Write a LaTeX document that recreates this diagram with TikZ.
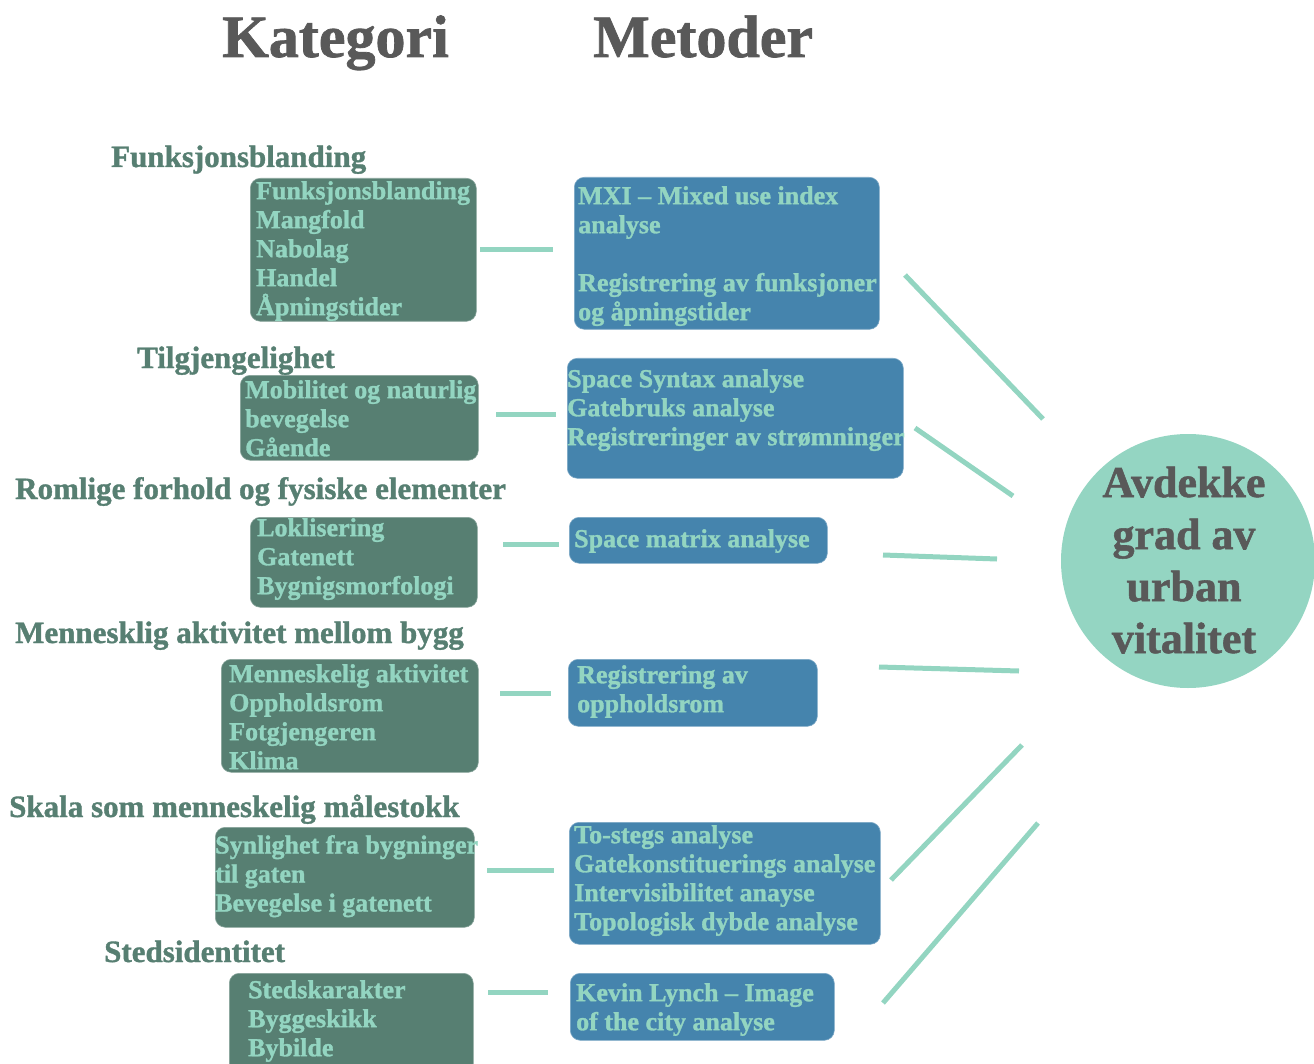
\documentclass[tikz,border=0pt]{standalone}
\usepackage{fontspec}
\setmainfont{Liberation Serif}[BoldFeatures={FakeBold=1.2}]
\definecolor{boxgreen}{HTML}{577F72}
\definecolor{boxblue}{HTML}{4584AD}
\definecolor{mint}{HTML}{93D5C1}
\definecolor{circ}{HTML}{94D5C2}
\definecolor{titlegray}{HTML}{595959}
\begin{document}
\begin{tikzpicture}[x=1pt,y=-1pt,
  gbox/.style={draw=boxgreen!70!white, line width=0.6pt, fill=boxgreen, rounded corners=10pt, anchor=north west, inner sep=0pt},
  bbox/.style={draw=boxblue!70!white, line width=0.6pt, fill=boxblue, rounded corners=10pt, anchor=north west, inner sep=0pt},
  boxtext/.style={anchor=north west, inner sep=0pt, align=left, text=mint, font=\fontsize{26}{29}\selectfont\bfseries},
  cat/.style={anchor=base west, inner sep=0pt, text=boxgreen, font=\fontsize{31}{36}\selectfont\bfseries},
  head/.style={anchor=base west, inner sep=0pt, text=titlegray, font=\fontsize{60}{70}\selectfont\bfseries},
  conn/.style={draw=mint, line width=5pt},
]
\useasboundingbox (0,0) rectangle (1314,1064);

% headings
\node[head] (hkat) at (222,57) {Kategori};
\node[head] (hmet) at (593,57) {Metoder};

% category labels
\node[cat] (c1) at (111,167) {Funksjonsblanding};
\node[cat] (c2) at (137,368) {Tilgjengelighet};
\node[cat] (c3) at (15,499) {Romlige forhold og fysiske elementer};
\node[cat] (c4) at (15,643) {Mennesklig aktivitet mellom bygg};
\node[cat] (c5) at (9,817) {Skala som menneskelig målestokk};
\node[cat] (c6) at (104,962) {Stedsidentitet};

% green boxes
\node[gbox, minimum width=226pt, minimum height=143pt] (g1) at (250,178) {};
\node[boxtext] (g1t) at (256,181) {Funksjonsblanding\\Mangfold\\Nabolag\\Handel\\Åpningstider};
\node[gbox, minimum width=238pt, minimum height=85pt] (g2) at (240,375) {};
\node[boxtext] (g2t) at (245,380) {Mobilitet og naturlig\\bevegelse\\Gående};
\node[gbox, minimum width=227pt, minimum height=90pt] (g3) at (250,517) {};
\node[boxtext] (g3t) at (257,518) {Loklisering\\Gatenett\\Bygnigsmorfologi};
\node[gbox, minimum width=257pt, minimum height=113pt] (g4) at (221,659) {};
\node[boxtext] (g4t) at (229,664) {Menneskelig aktivitet\\Oppholdsrom\\Fotgjengeren\\Klima};
\node[gbox, minimum width=259pt, minimum height=100pt] (g5) at (215,827) {};
\node[boxtext] (g5t) at (215,835) {Synlighet fra bygninger\\til gaten\\Bevegelse i gatenett};
\node[gbox, minimum width=244pt, minimum height=100pt] (g6) at (229,973) {};
\node[boxtext] (g6t) at (248,980) {Stedskarakter\\Byggeskikk\\Bybilde};

% blue boxes
\node[bbox, minimum width=305pt, minimum height=152pt] (b1) at (574,177) {};
\node[boxtext] (b1t) at (578,186) {MXI – Mixed use index\\analyse\\[29pt]Registrering av funksjoner\\og åpningstider};
\node[bbox, minimum width=336pt, minimum height=120pt] (b2) at (567,358) {};
\node[boxtext] (b2t) at (567,369) {Space Syntax analyse\\Gatebruks analyse\\Registreringer av strømninger};
\node[bbox, minimum width=258pt, minimum height=46pt] (b3) at (569,517) {};
\node[boxtext] (b3t) at (574,529) {Space matrix analyse};
\node[bbox, minimum width=249pt, minimum height=67pt] (b4) at (568,659) {};
\node[boxtext] (b4t) at (577,665) {Registrering av\\oppholdsrom};
\node[bbox, minimum width=311pt, minimum height=122pt] (b5) at (569,822) {};
\node[boxtext] (b5t) at (574,825) {To-stegs analyse\\Gatekonstituerings analyse\\Intervisibilitet anayse\\Topologisk dybde analyse};
\node[bbox, minimum width=264pt, minimum height=67pt] (b6) at (570,973) {};
\node[boxtext] (b6t) at (576,983) {Kevin Lynch – Image\\of the city analyse};

% goal circle
\node[circle, fill=circ, minimum size=254pt, inner sep=0pt] (goal) at (1188,561) {};
\node[align=center, inner sep=0pt, text=titlegray, font=\fontsize{44}{52}\selectfont\bfseries] (goalt) at (1184,560) {Avdekke\\grad av\\urban\\vitalitet};

% connector end points
\coordinate (g1e) at (480,250); \coordinate (b1w) at (553,250);
\coordinate (g2e) at (496,414); \coordinate (b2w) at (556,414);
\coordinate (g3e) at (503,544); \coordinate (b3w) at (559,544);
\coordinate (g4e) at (500,693); \coordinate (b4w) at (551,693);
\coordinate (g5e) at (487,870); \coordinate (b5w) at (554,870);
\coordinate (g6e) at (488,992); \coordinate (b6w) at (548,992);

\coordinate (b1e) at (905,275); \coordinate (o1) at (1043,419);
\coordinate (b2e) at (915,428); \coordinate (o2) at (1013,496);
\coordinate (b3e) at (883,555); \coordinate (o3) at (997,559);
\coordinate (b4e) at (879,667); \coordinate (o4) at (1019,671);
\coordinate (b5e) at (891,880); \coordinate (o5) at (1022,745);
\coordinate (b6e) at (883,1003); \coordinate (o6) at (1038,823);

\draw[conn] (g1e) -- (b1w);
\draw[conn] (g2e) -- (b2w);
\draw[conn] (g3e) -- (b3w);
\draw[conn] (g4e) -- (b4w);
\draw[conn] (g5e) -- (b5w);
\draw[conn] (g6e) -- (b6w);
\draw[conn] (b1e) -- (o1);
\draw[conn] (b2e) -- (o2);
\draw[conn] (b3e) -- (o3);
\draw[conn] (b4e) -- (o4);
\draw[conn] (b5e) -- (o5);
\draw[conn] (b6e) -- (o6);
\end{tikzpicture}
\end{document}
